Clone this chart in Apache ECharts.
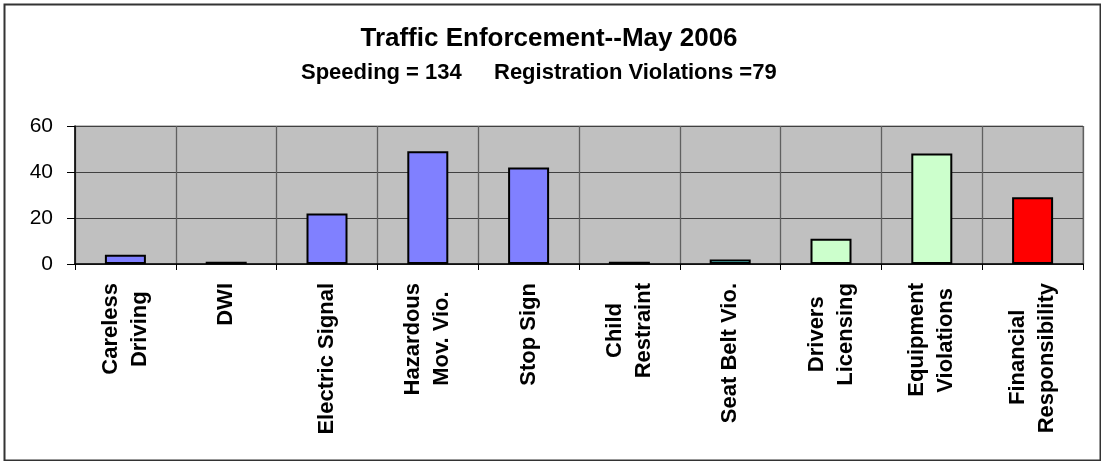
<!DOCTYPE html>
<html>
<head>
<meta charset="utf-8">
<script src="https://cdn.jsdelivr.net/npm/echarts@6/dist/echarts.min.js"></script>
<style>
html,body{margin:0;padding:0;background:#fff;}
#c{width:1101px;height:461px;}
</style>
</head>
<body>
<div id="c"></div>
<script>
// ---- data ----
const TITLE = 'Traffic Enforcement--May 2006';
const SUB_LEFT = 'Speeding = 134';
const SUB_RIGHT = 'Registration Violations =79';
const CATEGORIES = ['Careless\nDriving', 'DWI', 'Electric Signal', 'Hazardous\nMov. Vio.', 'Stop Sign',
  'Child\nRestraint', 'Seat Belt Vio.', 'Drivers\nLicensing', 'Equipment\nViolations', 'Financial\nResponsibility'];
const VALUES = [4, 1, 22, 49, 42, 1, 2, 11, 48, 29];
const GROUPS = ['moving', 'moving', 'moving', 'moving', 'moving', 'restraint', 'restraint', 'vehicle', 'vehicle', 'financial'];
const Y_TICKS = [0, 20, 40, 60];

// ---- styles ----
const GROUP_COLORS = { moving: '#8080FF', restraint: '#66FFFF', vehicle: '#CCFFCC', financial: '#FF0000' };
const FONT = "'Liberation Sans', Arial, sans-serif";
const XFS = 22;
const FILL_FS = 6;

// centre the lines of each rotated label on each other: shorter lines get an invisible filler token
const ctx = document.createElement('canvas').getContext('2d');
ctx.font = 'bold ' + XFS + 'px ' + FONT;
const measureBold = s => ctx.measureText(s).width;
const ctx2 = document.createElement('canvas').getContext('2d');
ctx2.font = FILL_FS + 'px ' + FONT;
const dotW = ctx2.measureText('.').width || FILL_FS * 0.278;
function centreLines(label) {
  const lines = label.split('\n');
  const ws = lines.map(measureBold);
  const wmax = Math.max(...ws);
  return lines.map((s, j) => {
    const n = Math.round((wmax - ws[j]) / 2 / dotW);
    return '{t|' + s + '}' + (n > 0 ? '{h|' + '.'.repeat(n) + '}' : '');
  }).join('\n');
}

const chart = echarts.init(document.getElementById('c'), null, { renderer: 'canvas' });
chart.setOption({
  animation: false,
  backgroundColor: '#ffffff',
  title: [
    { text: TITLE, left: 544, top: 21, textAlign: 'center',
      textStyle: { fontFamily: FONT, fontSize: 26, fontWeight: 'bold', color: '#000' } },
    { text: SUB_LEFT, left: 296, top: 57,
      textStyle: { fontFamily: FONT, fontSize: 22, fontWeight: 'bold', color: '#000' } },
    { text: SUB_RIGHT, left: 489, top: 57,
      textStyle: { fontFamily: FONT, fontSize: 22, fontWeight: 'bold', color: '#000' } }
  ],
  graphic: [{
    type: 'rect', left: 2, top: 2, silent: true,
    shape: { width: 1096, height: 456 },
    style: { fill: 'none', stroke: '#333', lineWidth: 2 }
  }],
  grid: {
    left: 75, right: 18, top: 126, bottom: 197,
    show: true, backgroundColor: '#C0C0C0', borderColor: '#808080', borderWidth: 1
  },
  xAxis: {
    type: 'category',
    data: CATEGORIES,
    boundaryGap: true,
    axisLine: { lineStyle: { color: '#000', width: 1.5 } },
    axisTick: { show: true, length: 6, interval: 0, lineStyle: { color: '#000', width: 1 } },
    splitLine: { show: true, interval: 0, lineStyle: { color: '#606060', width: 1.3 } },
    axisLabel: {
      interval: 0, rotate: 90, margin: 19,
      fontFamily: FONT, fontSize: XFS, fontWeight: 'bold', color: '#000', lineHeight: 29,
      formatter: v => centreLines(v),
      rich: {
        t: { fontFamily: FONT, fontSize: XFS, fontWeight: 'bold', color: '#000', lineHeight: 29 },
        h: { fontFamily: FONT, fontSize: FILL_FS, fontWeight: 'normal', color: 'rgba(0,0,0,0)', lineHeight: 6 }
      }
    }
  },
  yAxis: {
    type: 'value',
    min: Y_TICKS[0], max: Y_TICKS[Y_TICKS.length - 1], interval: Y_TICKS[1] - Y_TICKS[0],
    axisLine: { show: true, lineStyle: { color: '#000', width: 1.5 } },
    axisTick: { show: true, length: 8, lineStyle: { color: '#000' } },
    splitLine: { show: true, lineStyle: { color: '#404040', width: 1 } },
    axisLabel: { margin: 22, fontFamily: FONT, fontSize: 21, color: '#000' }
  },
  series: [{
    type: 'bar',
    barWidth: 41,
    data: VALUES.map((v, i) => ({
      value: v,
      itemStyle: { color: GROUP_COLORS[GROUPS[i]], borderColor: '#000', borderWidth: 2 }
    }))
  }]
});
</script>
</body>
</html>
